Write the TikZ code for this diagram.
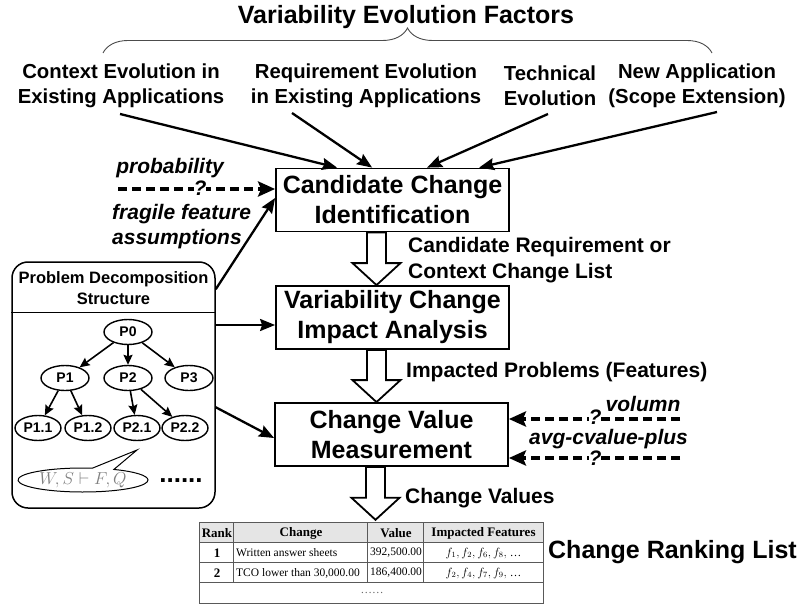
\documentclass[tikz,border=0pt]{standalone}
\usepackage{fontspec}
\setmainfont{Liberation Sans}
\newfontfamily\tabserif{Liberation Serif}
\usetikzlibrary{arrows.meta,calc,decorations.pathreplacing,shapes.geometric,shapes.callouts}
\newcommand\fsz[2]{\fontsize{#1}{#2}\selectfont}
\newcommand\blkarrow[2]{%
  \draw[blk] ($(#1)+(-9.5,0)$) -- ($(#1)+(9.5,0)$) -- ($(#2)+(9.5,-22)$) -- ($(#2)+(24,-22)$) -- (#2) -- ($(#2)+(-24,-22)$) -- ($(#2)+(-9.5,-22)$) -- cycle;}
\begin{document}
\begin{tikzpicture}[x=1pt,y=-1pt,
  lbl/.style={font=\fsz{20.3}{25}\bfseries, align=center, inner sep=0pt},
  proc/.style={draw, line width=1.8pt, minimum width=233pt, minimum height=63pt, inner sep=0pt, font=\fsz{25}{30}\bfseries, align=center, fill=white},
  arr/.style={line width=2.3pt, -{Stealth[length=15pt,width=12pt,inset=2pt]}},
  darr/.style={line width=3.5pt, dash pattern=on 9pt off 5pt, -{Stealth[length=17pt,width=15pt,inset=3pt]}},
  ilbl/.style={font=\fsz{21}{25}\bfseries\itshape, inner sep=0pt},
  qm/.style={font=\fsz{21}{25}\bfseries\itshape, inner sep=0pt, fill=white},
  blk/.style={draw, line width=1.8pt, fill=white, line join=miter},
  pn/.style={draw, ellipse, line width=1.4pt, minimum width=48pt, minimum height=25pt, inner sep=0pt, font=\fsz{14}{16}\bfseries, fill=white},
  tarr/.style={line width=1.6pt, -{Stealth[length=10pt,width=9pt,inset=1.5pt]}},
  tabtxt/.style={font=\tabserif\fsz{11.5}{13}, inner sep=0pt},
  tabhd/.style={font=\tabserif\fsz{13}{15}\bfseries, inner sep=0pt},
  tline/.style={draw=black!65, line width=0.8pt},
]
\useasboundingbox (0,0) rectangle (802,604);

% title and brace
\node[font=\fsz{25}{30}\bfseries, inner sep=0pt] (title) at (406,17) {Variability Evolution Factors};
\draw[decorate, decoration={brace, amplitude=25pt}, line width=0.9pt, black!70] (103,53) -- (712,53);

% factor labels
\node[lbl] (f1) at (121,86) {Context Evolution in\\Existing Applications};
\node[lbl] (f2) at (366,86) {Requirement Evolution\\in Existing Applications};
\node[lbl] (f3) at (550,86) {Technical\\Evolution};
\node[lbl] (f4) at (697,86) {New Application\\(Scope Extension)};

% process boxes
\node[proc] (b1) at (392.5,200) {Candidate Change\\Identification};
\node[proc] (b2) at (392.5,317.5) {Variability Change\\Impact Analysis};
\node[proc] (b3) at (391.5,434.5) {Change Value\\Measurement};

% arrows from factors
\coordinate (s1) at (120,114);
\coordinate (s2) at (292,113);
\coordinate (s3) at (548,114);
\coordinate (s4) at (717,112);
\draw[arr] (s1) -- ($(b1.north west)+(62,0)$);
\draw[arr] (s2) -- ($(b1.north west)+(97,0)$);
\draw[arr] (s3) -- ($(b1.north west)+(152,0)$);
\draw[arr] (s4) -- ($(b1.north west)+(204,0)$);

% table
\node[minimum width=343pt, minimum height=80pt, inner sep=0pt] (tab) at (371.5,563) {};
\fill[black!10] (tab.north west) rectangle ($(tab.north east)+(0,20)$);
\draw[tline] ($(tab.north west)+(0,20)$) -- ($(tab.north east)+(0,20)$)
             ($(tab.north west)+(0,40)$) -- ($(tab.north east)+(0,40)$)
             ($(tab.north west)+(0,60)$) -- ($(tab.north east)+(0,60)$)
             ($(tab.north west)+(34,0)$) -- ($(tab.north west)+(34,60)$)
             ($(tab.north west)+(168,0)$) -- ($(tab.north west)+(168,60)$)
             ($(tab.north west)+(224,0)$) -- ($(tab.north west)+(224,60)$);
\draw[tline] (tab.north west) rectangle (tab.south east);
\node[tabhd] (h1) at (217,533) {Rank};
\node[tabhd] (h2) at (301,533) {Change};
\node[tabhd] (h3) at (396,533) {Value};
\node[tabhd] (h4) at (483.5,533) {Impacted Features};
\node[tabhd] (r1a) at (217,553) {1};
\node[tabtxt, anchor=west] (r1b) at (236,553) {Written answer sheets};
\node[tabtxt] (r1c) at (396,553) {392,500.00};
\node[tabtxt] (r1d) at (483.5,553) {$f_1, f_2, f_6, f_8,$ \dots};
\node[tabhd] (r2a) at (217,573) {2};
\node[tabtxt, anchor=west] (r2b) at (236,573) {TCO lower than 30,000.00};
\node[tabtxt] (r2c) at (396,573) {186,400.00};
\node[tabtxt] (r2d) at (483.5,573) {$f_2, f_4, f_7, f_9,$ \dots};
\node[tabtxt, text=black!60] (r3) at (372,593) {……};
\node[font=\fsz{25}{30}\bfseries, inner sep=0pt] (crl) at (672.5,552) {Change Ranking List};

% block arrows
\path ($(b1.south)+(-16,0)$) coordinate (a1s) (a1s |- b2.north) coordinate (a1t);
\path ($(b2.south)+(-16,0)$) coordinate (a2s) (a2s |- b3.north) coordinate (a2t);
\path ($(b3.south)+(-16,0)$) coordinate (a3s);
\path ($(a3s |- tab.north)+(0,-3)$) coordinate (a3t);
\blkarrow{a1s}{a1t}
\blkarrow{a2s}{a2t}
\blkarrow{a3s}{a3t}

% labels of block arrows
\node[lbl, anchor=west, align=left, font=\fsz{21}{26}\bfseries] (l1) at (408,260) {Candidate Requirement or\\Context Change List};
\node[lbl, anchor=west, font=\fsz{21}{25}\bfseries] (l2) at (406,372) {Impacted Problems (Features)};
\node[lbl, anchor=west, font=\fsz{21}{25}\bfseries] (l3) at (405,498) {Change Values};

% problem decomposition panel
\node[draw, line width=1.5pt, rounded corners=16pt, minimum width=203pt, minimum height=246pt, inner sep=0pt] (pds) at (113.5,385) {};
\node[font=\fsz{16.5}{21}\bfseries, align=center, inner sep=0pt] (pdst) at (113.5,288) {Problem Decomposition\\Structure};
\draw[line width=1pt] (pds.west |- 0,312) -- (pds.east |- 0,312);

\node[pn] (P0) at (128,332) {P0};
\node[pn] (P1) at (65,378) {P1};
\node[pn] (P2) at (128,378) {P2};
\node[pn] (P3) at (189,378) {P3};
\node[pn, minimum width=46pt] (P11) at (38,428) {P1.1};
\node[pn, minimum width=46pt] (P12) at (88,428) {P1.2};
\node[pn, minimum width=46pt] (P21) at (137,428) {P2.1};
\node[pn, minimum width=46pt] (P22) at (185,428) {P2.2};
\foreach \a/\b in {P0/P1,P0/P2,P0/P3,P1/P11,P1/P12,P2/P21,P2/P22}
  \draw[tarr] (\a) -- (\b);

\node[ellipse callout, draw, line width=1pt, fill=white, minimum width=130pt, minimum height=24pt, inner xsep=-4pt, inner ysep=0pt,
      callout absolute pointer={(137,450)}, callout pointer arc=20, text=black!50, font=\fsz{17}{20}] (wsfq) at (83,480) {$W,S\vdash F,Q$};
\node[font=\fsz{26}{30}\bfseries, inner sep=0pt] (dots) at (181,481) {......};

% arrows from panel
\coordinate (e1) at ($(b1.west)+(0,-2)$);
\coordinate (e2) at ($(b2.west)+(0,7.5)$);
\coordinate (e3) at ($(b3.west)+(0,3.5)$);
\draw[arr] ($(pds.north east)+(0,28)$) -- (e1);
\draw[arr] (pds.east |- e2) -- (e2);
\draw[arr] ($(pds.north east)+(0,146)$) -- (e3);

% dashed inputs
\coordinate (d1) at (118,189);
\draw[darr] (d1) -- ($(b1.west)+(0,-11)$);
\node[qm] (q1) at (200,188) {?};
\node[ilbl] (prob) at (170,168) {probability};
\node[ilbl, anchor=west, align=left, font=\fsz{21}{25}\bfseries\itshape] (frag) at (112,226.5) {fragile feature\\assumptions};

\coordinate (d2) at (680,419);
\coordinate (d3) at (680,458);
\draw[darr] (d2) -- ($(b3.east)+(0,-15.5)$);
\draw[darr] (d3) -- ($(b3.east)+(0,23.5)$);
\node[qm] (q2) at (595,417) {?};
\node[qm] (q3) at (595,458.5) {?};
\node[ilbl] (vol) at (643,404) {volumn};
\node[ilbl] (avg) at (608.5,439) {avg-cvalue-plus};
\end{tikzpicture}
\end{document}
